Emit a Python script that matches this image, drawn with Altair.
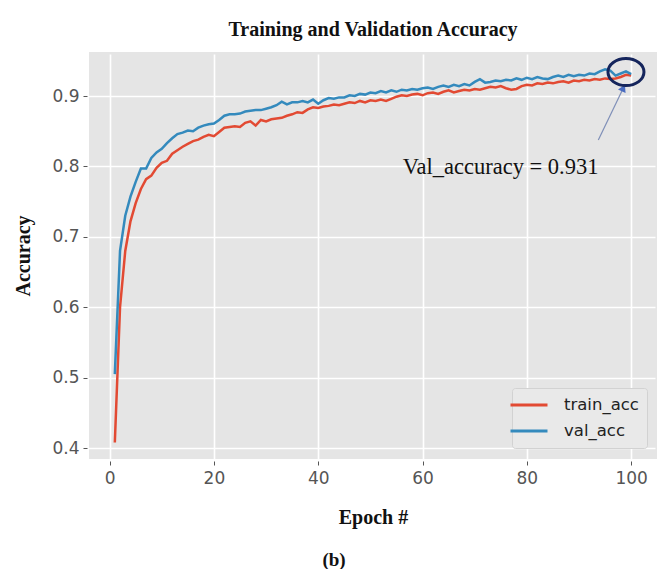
import altair as alt
import pandas as pd

epochs = list(range(1, 101))

train_acc = [
    0.408, 0.600, 0.680, 0.722, 0.748, 0.768, 0.782, 0.787, 0.798, 0.805,
    0.808, 0.818, 0.823, 0.828, 0.832, 0.836, 0.838, 0.842, 0.845, 0.843,
    0.849, 0.855, 0.856, 0.857, 0.856, 0.862, 0.864, 0.858, 0.866, 0.864,
    0.867, 0.868, 0.869, 0.872, 0.874, 0.877, 0.876, 0.881, 0.884, 0.883,
    0.885, 0.886, 0.888, 0.887, 0.889, 0.891, 0.890, 0.893, 0.891, 0.894,
    0.893, 0.895, 0.893, 0.896, 0.899, 0.901, 0.900, 0.902, 0.903, 0.901,
    0.904, 0.905, 0.903, 0.906, 0.908, 0.905, 0.907, 0.909, 0.908, 0.910,
    0.909, 0.911, 0.913, 0.912, 0.914, 0.911, 0.909, 0.910, 0.914, 0.916,
    0.915, 0.918, 0.917, 0.919, 0.918, 0.920, 0.921, 0.919, 0.922, 0.921,
    0.923, 0.922, 0.924, 0.923, 0.925, 0.924, 0.925, 0.927, 0.930, 0.929,
]

val_acc = [
    0.505, 0.680, 0.730, 0.757, 0.778, 0.797, 0.797, 0.812, 0.820, 0.825,
    0.833, 0.840, 0.846, 0.848, 0.851, 0.850, 0.855, 0.858, 0.860, 0.861,
    0.866, 0.872, 0.874, 0.874, 0.875, 0.878, 0.879, 0.880, 0.880, 0.882,
    0.884, 0.887, 0.892, 0.888, 0.891, 0.891, 0.893, 0.891, 0.895, 0.889,
    0.894, 0.897, 0.896, 0.898, 0.898, 0.901, 0.900, 0.903, 0.902, 0.905,
    0.904, 0.907, 0.905, 0.908, 0.906, 0.909, 0.908, 0.910, 0.909, 0.911,
    0.912, 0.910, 0.913, 0.915, 0.913, 0.916, 0.914, 0.917, 0.915, 0.920,
    0.924, 0.919, 0.920, 0.922, 0.921, 0.923, 0.922, 0.925, 0.923, 0.926,
    0.924, 0.927, 0.925, 0.924, 0.927, 0.929, 0.927, 0.930, 0.928, 0.930,
    0.929, 0.932, 0.931, 0.935, 0.938, 0.936, 0.929, 0.932, 0.935, 0.931,
]

series_names = ["train_acc", "val_acc"]
series_colors = ["#E24A33", "#348ABD"]
x_ticks = [0, 20, 40, 60, 80, 100]
y_ticks = [0.4, 0.5, 0.6, 0.7, 0.8, 0.9]

chart_title = "Training and Validation Accuracy"
x_title = "Epoch #"
y_title = "Accuracy"
note_text = ["Val_accuracy = 0.931"]
note_pos = [56.2, 0.789]            # epoch, accuracy (text anchor)
arrow_from = [93.7, 0.8375]
arrow_to = [98.5, 0.9114]
ring_center = [99.0, 0.934]
caption = ["(b)"]

df = pd.DataFrame({
    "epoch": epochs + epochs,
    "acc": train_acc + val_acc,
    "series": [series_names[0]] * len(epochs) + [series_names[1]] * len(epochs),
})

W, H = 568, 407
x_scale = alt.Scale(domain=[-3.95, 104.95], nice=False, zero=False)
y_scale = alt.Scale(domain=[0.3845, 0.9625], nice=False, zero=False)

serif = "Liberation Serif"
sans = "DejaVu Sans"

lines = alt.Chart(df).mark_line(strokeWidth=2.5).encode(
    x=alt.X("epoch:Q", scale=x_scale,
            axis=alt.Axis(values=x_ticks, title=x_title, titlePadding=21, labelPadding=5)),
    y=alt.Y("acc:Q", scale=y_scale,
            axis=alt.Axis(values=y_ticks, format=".1f", title=y_title, titlePadding=18, labelPadding=4)),
    color=alt.Color("series:N",
                    scale=alt.Scale(domain=series_names, range=series_colors),
                    legend=alt.Legend(title=None, orient="none", legendX=423, legendY=336,
                                      symbolType="M -2.5 0 L 2.5 0", symbolSize=219,
                                      symbolStrokeWidth=3,
                                      labelFont=sans, labelFontSize=16.5, labelColor="#222222",
                                      labelOffset=26, rowPadding=8, padding=8,
                                      fillColor="#e9e9e9", strokeColor="#d2d2d2",
                                      cornerRadius=3)),
    order="epoch:Q",
)

note_df = pd.DataFrame({"epoch": [note_pos[0]], "acc": [note_pos[1]], "t": note_text})
note = alt.Chart(note_df).mark_text(font=serif, fontSize=22.5, align="left",
                                    baseline="alphabetic", color="#111111").encode(
    x="epoch:Q", y="acc:Q", text="t:N")

arrow_df = pd.DataFrame({"epoch": [arrow_from[0]], "acc": [arrow_from[1]],
                         "epoch2": [arrow_to[0]], "acc2": [arrow_to[1]]})
arrow = alt.Chart(arrow_df).mark_rule(color="#7f8fb8", strokeWidth=1.2).encode(
    x="epoch:Q", y="acc:Q", x2="epoch2:Q", y2="acc2:Q")

head_df = pd.DataFrame({"epoch": [arrow_to[0]], "acc": [arrow_to[1]]})
head = alt.Chart(head_df).mark_point(shape="triangle-up", filled=True, size=70,
                                     angle=25.7, color="#4a6cc0", opacity=1).encode(
    x="epoch:Q", y="acc:Q")

ring_df = pd.DataFrame({"epoch": [ring_center[0]], "acc": [ring_center[1]]})
ring = alt.Chart(ring_df).mark_point(
    shape="M -1 0 A 1 0.75 0 1 1 1 0 A 1 0.75 0 1 1 -1 0 Z",
    filled=False, size=1296, strokeWidth=3, color="#15255c", opacity=1).encode(
    x="epoch:Q", y="acc:Q")

cap_df = pd.DataFrame({"t": caption})
cap = alt.Chart(cap_df).mark_text(font=serif, fontSize=19, fontWeight="bold",
                                  align="center", baseline="alphabetic", color="#111111").encode(
    x=alt.value(245), y=alt.value(514), text="t:N")

chart = alt.layer(lines, note, arrow, head, ring, cap).properties(
    width=W, height=H,
    autosize=alt.AutoSizeParams(type="none"),
    padding={"left": 81, "top": 44, "right": 0, "bottom": 110},
    title=alt.TitleParams(chart_title, font=serif, fontSize=20, fontWeight="bold",
                          color="#111111", anchor="middle", offset=12, frame="group"),
).configure_view(
    fill="#E5E5E5", stroke=None,
).configure_axis(
    domain=False, grid=True, gridColor="#FFFFFF", gridWidth=1.6,
    tickColor="#555555", tickSize=4, tickWidth=1, offset=2,
    labelFont=sans, labelFontSize=17, labelColor="#555555",
    titleFont=serif, titleFontSize=20, titleFontWeight="bold", titleColor="#111111",
)

chart.save("out.html", embed_options={"renderer": "svg", "actions": False})
